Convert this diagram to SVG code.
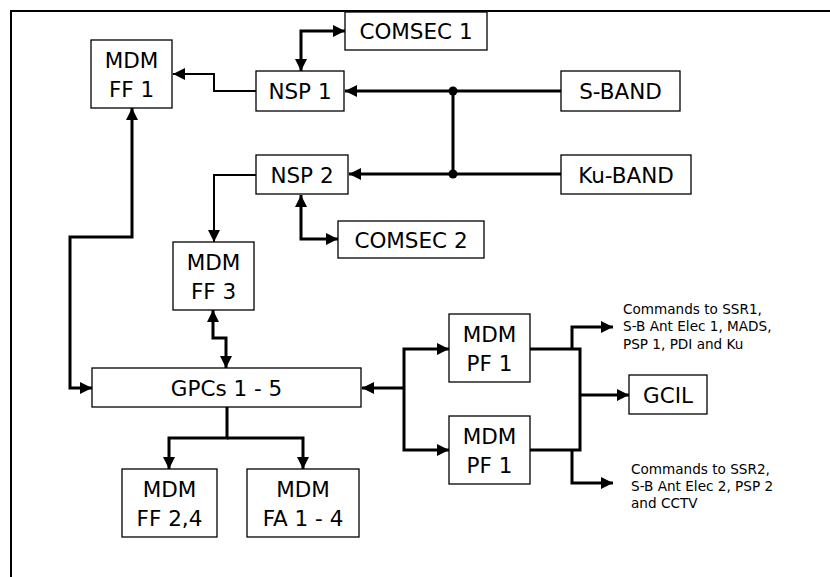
<svg xmlns="http://www.w3.org/2000/svg" width="830" height="577" viewBox="0 0 830 577">
<defs>
<marker id="ah" viewBox="0 0 10 10" refX="10" refY="5" markerWidth="12" markerHeight="12" markerUnits="userSpaceOnUse" orient="auto-start-reverse">
<path d="M0,0 L10,5 L0,10 z" fill="#000"/>
</marker>
<style>
.box{fill:#fff;stroke:#000;stroke-width:1.3}
.lbl{font-family:"DejaVu Sans","Noto Sans",sans-serif;font-size:21.5px;text-anchor:middle;fill:#000}
.sm{font-family:"DejaVu Sans","Noto Sans",sans-serif;font-size:13.6px;fill:#000}
.c{fill:none;stroke:#000;stroke-width:3}
.t{fill:none;stroke:#000;stroke-width:2}
.a{marker-end:url(#ah)}
.b{marker-start:url(#ah);marker-end:url(#ah)}
</style>
</defs>
<rect width="830" height="577" fill="#fff"/>
<path d="M11,577 L11,11 L830,11" fill="none" stroke="#000" stroke-width="2"/>

<g id="connectors">
<path class="c a" d="M561,91 L345,91"/>
<path class="c a" d="M561,174 L349,174"/>
<path class="c" d="M453,91 L453,174"/>
<circle cx="453" cy="91" r="4.5" fill="#000"/>
<circle cx="453" cy="174" r="4.5" fill="#000"/>
<path class="t a" d="M256,91 L214,91 L214,74 L173,74"/>
<path class="c b" d="M301,71 L301,31 L345,31"/>
<path class="t a" d="M256,175 L214,175 L214,242"/>
<path class="c b" d="M301,195 L301,239 L338,239"/>
<path class="c b" d="M213,310 L213,338 L226,338 L226,368"/>
<path class="c b" d="M132,108 L132,237 L70,237 L70,388 L92,388"/>
<path class="c a" d="M227,407 L227,438 L169,438 L169,469"/>
<path class="c a" d="M227,438 L303,438 L303,469"/>
<path class="c a" d="M404,388 L404,349 L449,349"/>
<path class="c a" d="M404,388 L404,450 L449,450"/>
<path class="c a" d="M404,388 L362,388"/>
<path class="c" d="M530,349 L580,349 L580,450 L530,450"/>
<path class="c a" d="M580,395 L629,395"/>
<path class="c a" d="M572,349 L572,327 L613,327"/>
<path class="c a" d="M572,450 L572,483 L613,483"/>
</g>

<g id="mdm-ff1"><rect class="box" x="91" y="40" width="81" height="68"/><text class="lbl" x="131.5" y="68">MDM</text><text class="lbl" x="131.5" y="97">FF 1</text></g>
<g id="nsp1"><rect class="box" x="256" y="71" width="88" height="40"/><text class="lbl" x="300" y="99">NSP 1</text></g>
<g id="comsec1"><rect class="box" x="345" y="12" width="142" height="38"/><text class="lbl" x="416" y="39">COMSEC 1</text></g>
<g id="s-band"><rect class="box" x="561" y="71" width="119" height="40"/><text class="lbl" x="620.5" y="99">S-BAND</text></g>
<g id="ku-band"><rect class="box" x="561" y="155" width="130" height="39"/><text class="lbl" x="626" y="182.5">Ku-BAND</text></g>
<g id="nsp2"><rect class="box" x="256" y="155" width="92" height="39"/><text class="lbl" x="302" y="182.5">NSP 2</text></g>
<g id="comsec2"><rect class="box" x="338" y="221" width="146" height="37"/><text class="lbl" x="411" y="247.5">COMSEC 2</text></g>
<g id="mdm-ff3"><rect class="box" x="173" y="242" width="81" height="68"/><text class="lbl" x="213.5" y="270">MDM</text><text class="lbl" x="213.5" y="299">FF 3</text></g>
<g id="gpcs"><rect class="box" x="92" y="368" width="269" height="39"/><text class="lbl" x="226.5" y="395.5">GPCs 1 - 5</text></g>
<g id="mdm-ff24"><rect class="box" x="122" y="469" width="95" height="68"/><text class="lbl" x="169.5" y="497">MDM</text><text class="lbl" x="169.5" y="526">FF 2,4</text></g>
<g id="mdm-fa14"><rect class="box" x="247" y="469" width="112" height="68"/><text class="lbl" x="303" y="497">MDM</text><text class="lbl" x="303" y="526">FA 1 - 4</text></g>
<g id="mdm-pf1-top"><rect class="box" x="449" y="314" width="81" height="68"/><text class="lbl" x="489.5" y="342">MDM</text><text class="lbl" x="489.5" y="371">PF 1</text></g>
<g id="mdm-pf1-bottom"><rect class="box" x="449" y="416" width="81" height="68"/><text class="lbl" x="489.5" y="444">MDM</text><text class="lbl" x="489.5" y="473">PF 1</text></g>
<g id="gcil"><rect class="box" x="629" y="375" width="78" height="39"/><text class="lbl" x="668" y="402.5">GCIL</text></g>

<g id="cmd1">
<text class="sm" x="623" y="314">Commands to SSR1,</text>
<text class="sm" x="623" y="331">S-B Ant Elec 1, MADS,</text>
<text class="sm" x="623" y="348.5">PSP 1, PDI and Ku</text>
</g>
<g id="cmd2">
<text class="sm" x="631" y="474">Commands to SSR2,</text>
<text class="sm" x="631" y="491">S-B Ant Elec 2, PSP 2</text>
<text class="sm" x="631" y="507.5">and CCTV</text>
</g>
</svg>
